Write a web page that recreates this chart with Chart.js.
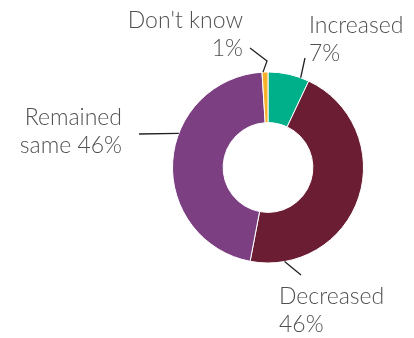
<!DOCTYPE html>
<html>
<head>
<meta charset="utf-8">
<script src="https://cdn.jsdelivr.net/npm/chart.js@4.4.1/dist/chart.umd.min.js"></script>
<style>
  html, body { margin: 0; padding: 0; background: #fff; }
  #wrap { width: 414px; height: 338px; }
</style>
</head>
<body>
<div id="wrap"><canvas id="grafico" width="414" height="338"></canvas></div>
<script>
// Datos del grafico
const categorias = ["Increased", "Decreased", "Remained same", "Don't know"];
const valores = [7, 46, 46, 1];
const colores = ["#00b08a", "#6b1e33", "#7b3f82", "#f6b12b"];

// Textos de las etiquetas (lineas), en el mismo orden que las categorias
const etiquetas = [
  ["Increased", "7%"],
  ["Decreased", "46%"],
  ["Remained", "same 46%"],
  ["Don't know", "1%"]
];

// Donde va cada etiqueta y su linea guia
// ang: angulo (grados desde arriba, sentido horario) donde sale la linea del arco
const guias = [
  { ang: 20,  puntos: [[305, 58]], x: 309, y: 33, align: "left" },
  { ang: 170, puntos: [[301, 275]], x: 279, y: 304, align: "left" },
  { ang: 291, puntos: [[139, 134]], x: 122, y: 125, align: "right" },
  { ang: 357, puntos: [[267, 61], [250, 48]], x: 243, y: 28, align: "right" }
];

const pluginEtiquetas = {
  id: "etiquetas",
  afterDraw(chart) {
    const ctx = chart.ctx;
    const arco = chart.getDatasetMeta(0).data[0];
    const cx = arco.x, cy = arco.y, r = arco.outerRadius;
    ctx.save();
    guias.forEach((g, i) => {
      const a = g.ang * Math.PI / 180;
      const x0 = cx + r * Math.sin(a);
      const y0 = cy - r * Math.cos(a);
      ctx.beginPath();
      ctx.moveTo(x0, y0);
      g.puntos.forEach(p => ctx.lineTo(p[0], p[1]));
      ctx.strokeStyle = "#222";
      ctx.lineWidth = 1.3;
      ctx.stroke();

      ctx.fillStyle = "#505050";
      ctx.font = "300 23px Lato";
      ctx.textAlign = g.align;
      ctx.textBaseline = "alphabetic";
      etiquetas[i].forEach((t, j) => {
        ctx.fillText(t, g.x, g.y + j * 28);
      });
    });
    ctx.restore();
  }
};

new Chart(document.getElementById("grafico"), {
  type: "doughnut",
  data: {
    labels: categorias,
    datasets: [{
      data: valores,
      backgroundColor: colores,
      borderColor: "#fff",
      borderWidth: 1
    }]
  },
  options: {
    responsive: false,
    animation: false,
    cutout: "47%",
    layout: {
      padding: { top: 71, bottom: 74, left: 172, right: 50 }
    },
    plugins: {
      legend: { display: false },
      tooltip: { enabled: false }
    }
  },
  plugins: [pluginEtiquetas]
});
</script>
</body>
</html>
